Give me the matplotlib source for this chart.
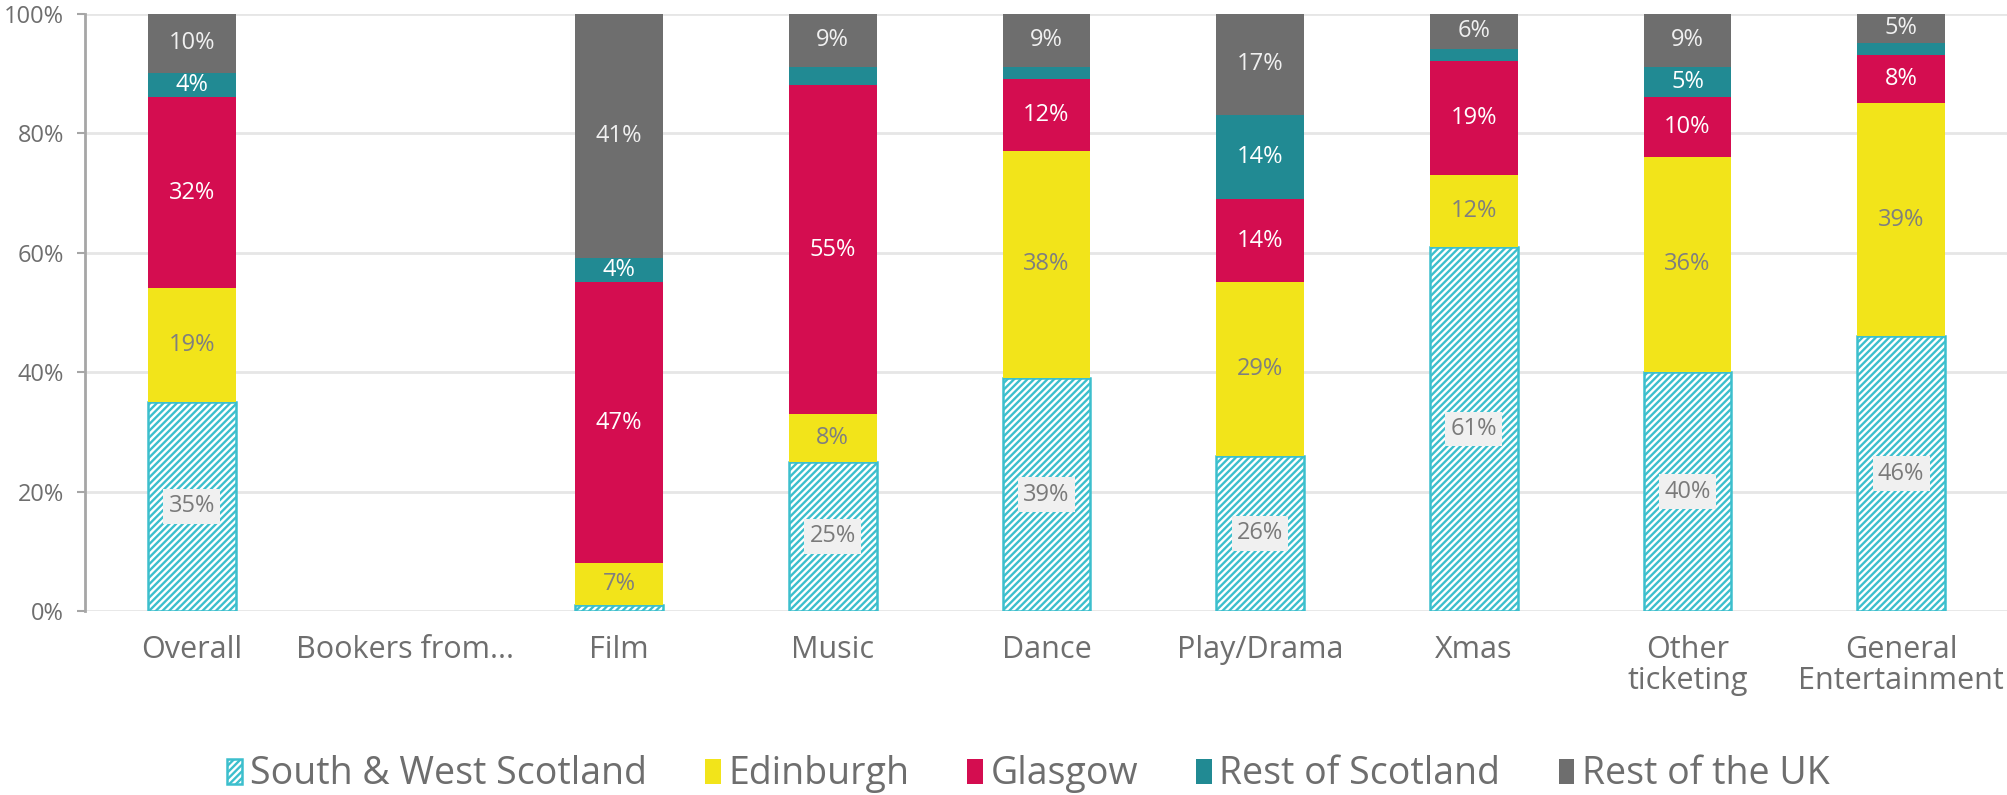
import matplotlib.pyplot as plt
import numpy as np

plt.rcParams['font.family'] = ['Open Sans', 'DejaVu Sans']
plt.rcParams['hatch.linewidth'] = 1.7

categories = ["Overall", "Bookers from...", "Film", "Music", "Dance", "Play/Drama",
              "Xmas", "Other\nticketing", "General\nEntertainment"]

south_west = [35, 0, 1, 25, 39, 26, 61, 40, 46]
edinburgh = [19, 0, 7, 8, 38, 29, 12, 36, 39]
glasgow = [32, 0, 47, 55, 12, 14, 19, 10, 8]
rest_scotland = [4, 0, 4, 3, 2, 14, 2, 5, 2]
rest_uk = [10, 0, 41, 9, 9, 17, 6, 9, 5]

series = [
    ("South & West Scotland", south_west),
    ("Edinburgh", edinburgh),
    ("Glasgow", glasgow),
    ("Rest of Scotland", rest_scotland),
    ("Rest of the UK", rest_uk),
]
colors = ["white", "#f2e41a", "#d40d50", "#218a93", "#6e6e6e"]
text_colors = ["#7a7a7a", "#7f7f7f", "white", "white", "#f0f0f0"]
hatch_color = "#3cbfcd"

fig = plt.figure(figsize=(20.08, 7.95), dpi=100)
ax = fig.add_axes([0.0423, 0.2314, 0.9577, 0.7516])

x = np.arange(len(categories))
width = 0.41
bottom = np.zeros(len(categories))
handles = []
for i, (name, vals) in enumerate(series):
    vals = np.array(vals, dtype=float)
    if i == 0:
        # hatched bars, no outline where the value is zero
        bars = ax.bar(x, vals, width, bottom=bottom, color="white",
                      edgecolor=hatch_color, hatch="/////",
                      linewidth=np.where(vals > 0, 1.8, 0),
                      label=name, zorder=3)
    else:
        bars = ax.bar(x, vals, width, bottom=bottom, color=colors[i],
                      linewidth=0, label=name, zorder=3)
    handles.append(bars)
    for xi, v, b in zip(x, vals, bottom):
        if v >= 4:
            box = None
            if i == 0:
                box = dict(boxstyle="square,pad=0.22", fc="#f0f0f0", ec="none")
            ax.text(xi, b + v / 2, f"{v:.0f}%", ha="center", va="center",
                    fontsize=17, color=text_colors[i], zorder=5, bbox=box)
    bottom += vals

ax.set_xlim(-0.5, len(categories) - 0.5)
ax.set_ylim(0, 100)
ax.set_yticks(np.arange(0, 101, 20))
ax.set_yticklabels([f"{t}%" for t in range(0, 101, 20)])
ax.set_xticks(x)
ax.set_xticklabels(categories, fontsize=22, color="#6e6e6e", linespacing=1.05)
ax.tick_params(axis="x", length=0, pad=17)
ax.tick_params(axis="y", labelsize=17, labelcolor="#6e6e6e", color="#a6a6a6",
               length=6, width=1.5, pad=9)
ax.yaxis.grid(True, color="#e6e6e6", linewidth=2, zorder=0)
ax.set_axisbelow(True)
for s in ["top", "right", "bottom"]:
    ax.spines[s].set_visible(False)
ax.spines["left"].set_color("#a6a6a6")
ax.spines["left"].set_linewidth(2)

leg = fig.legend(handles=handles, loc="center", bbox_to_anchor=(0.512, 0.026),
                 ncol=5, frameon=False, fontsize=27, handlelength=0.42,
                 handleheight=0.65, handletextpad=0.2, columnspacing=1.55,
                 borderpad=0)
for t in leg.get_texts():
    t.set_color("#6e6e6e")

fig.savefig("out.png", dpi=100)
